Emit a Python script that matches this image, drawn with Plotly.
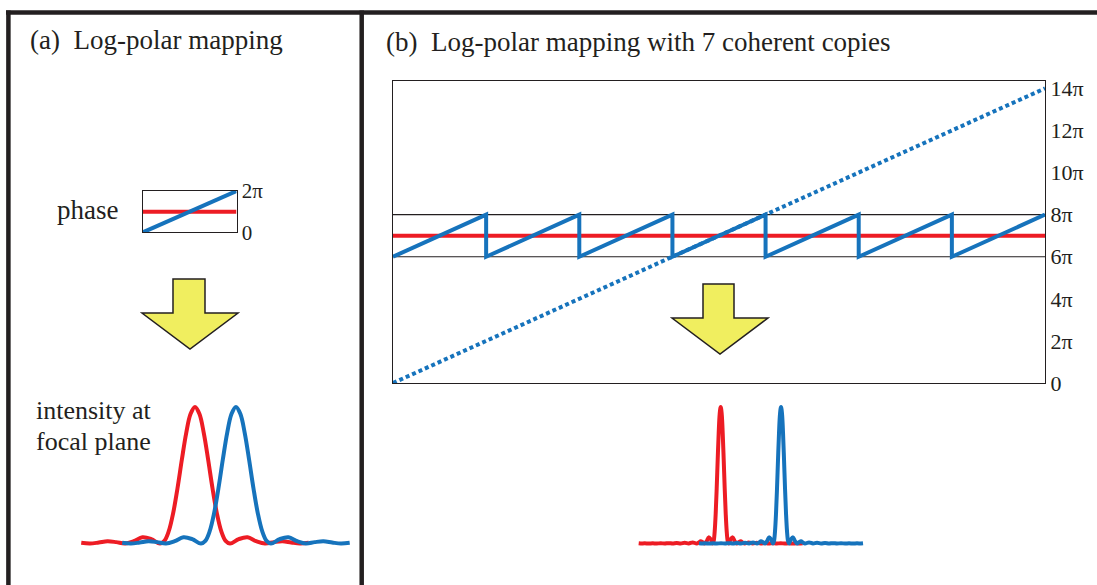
import plotly.graph_objects as go

W, H = 1097, 585

# ---------------- data ----------------
# panel (a): phase across the aperture (in units of pi)
phase_a_x = [0, 1]
phase_a_red = [1, 1]
phase_a_blue = [0, 2]
phase_a_tickvals = [0, 2]
phase_a_ticktext = ["0", "2π"]

# panel (b): phase with 7 coherent copies (in units of pi)
saw_x = [0, 1, 1, 2, 2, 3, 3, 4, 4, 5, 5, 6, 6, 7]
saw_y = [6, 8, 6, 8, 6, 8, 6, 8, 6, 8, 6, 8, 6, 8]
ramp_x = [0, 7]
ramp_y = [0, 14]
flat_x = [0, 7]
flat_y = [7, 7]
band_levels = [6, 8]
b_tickvals = [0, 2, 4, 6, 8, 10, 12, 14]
b_ticktext = ["0", "2π", "4π", "6π", "8π", "10π", "12π", "14π"]

# intensity at focal plane, panel (a) (offset from peak, relative intensity)
int_a_offsets = [-3.25, -3.0, -2.75, -2.5, -2.25, -2.0, -1.75, -1.5, -1.25, -1.0,
                 -0.875, -0.75, -0.625, -0.5, -0.375, -0.25, -0.125, 0.0,
                 0.125, 0.25, 0.375, 0.5, 0.625, 0.75, 0.875, 1.0,
                 1.25, 1.5, 1.75, 2.0, 2.25, 2.5, 2.75, 3.0, 3.25]
int_a_values = [0.005, 0.0, 0.007, 0.016, 0.010, 0.0, 0.017, 0.045, 0.032, 0.0,
                0.019, 0.090, 0.221, 0.405, 0.615, 0.811, 0.950, 1.0,
                0.950, 0.811, 0.615, 0.405, 0.221, 0.090, 0.019, 0.0,
                0.032, 0.045, 0.017, 0.0, 0.010, 0.016, 0.007, 0.0, 0.005]
int_a_red_center = 0.0
int_a_blue_center = 1.17

# intensity at focal plane, panel (b)
int_b_offsets = [-10.25, -10.0, -9.5, -9.0, -8.5, -8.0, -7.5, -7.0, -6.5, -6.0,
                 -5.5, -5.0, -4.5, -4.0, -3.5, -3.0, -2.75, -2.5, -2.25, -2.0,
                 -1.75, -1.5, -1.25, -1.0, -0.875, -0.75, -0.625, -0.5, -0.375,
                 -0.25, -0.125, 0.0, 0.125, 0.25, 0.375, 0.5, 0.625, 0.75, 0.875,
                 1.0, 1.25, 1.5, 1.75, 2.0, 2.25, 2.5, 2.75, 3.0, 3.5, 4.0, 4.5,
                 5.0, 5.5, 6.0, 6.5, 7.0, 7.5, 8.0, 8.5, 9.0, 9.5, 10.0, 10.25]
int_b_values = [0.001, 0.0, 0.001, 0.0, 0.0014, 0.0, 0.0018, 0.0, 0.0024, 0.0,
                0.0033, 0.0, 0.005, 0.0, 0.008, 0.0, 0.007, 0.016, 0.010, 0.0,
                0.017, 0.045, 0.032, 0.0, 0.019, 0.090, 0.221, 0.405, 0.615,
                0.811, 0.950, 1.0, 0.950, 0.811, 0.615, 0.405, 0.221, 0.090, 0.019,
                0.0, 0.032, 0.045, 0.017, 0.0, 0.010, 0.016, 0.007, 0.0, 0.008, 0.0, 0.005,
                0.0, 0.0033, 0.0, 0.0024, 0.0, 0.0018, 0.0, 0.0014, 0.0, 0.001, 0.0, 0.001]
int_b_red_center = 0.0
int_b_blue_center = 7.54

# ---------------- style ----------------
RED = "#ED1C24"
BLUE = "#1673BC"
INK = "#231F20"
YELLOW = "#F0EE5F"
FONT = "Liberation Serif"


def dx(p0, p1):
    return [p0 / W, p1 / W]


def dy(top, bottom):
    return [1 - bottom / H, 1 - top / H]


def px(p):
    return p / W


def py(p):
    return 1 - p / H


fig = go.Figure()

# panel (b) main phase plot (axes x / y)
fig.add_trace(go.Scatter(x=flat_x, y=flat_y, mode="lines",
                         line=dict(color=RED, width=4), xaxis="x", yaxis="y"))
fig.add_trace(go.Scatter(x=ramp_x, y=ramp_y, mode="lines",
                         line=dict(color=BLUE, width=4, dash="4px,3px"), xaxis="x", yaxis="y"))
fig.add_trace(go.Scatter(x=saw_x, y=saw_y, mode="lines",
                         line=dict(color=BLUE, width=4), xaxis="x", yaxis="y"))

# panel (a) phase box (axes x2 / y2)
fig.add_trace(go.Scatter(x=phase_a_x, y=phase_a_red, mode="lines",
                         line=dict(color=RED, width=4), xaxis="x2", yaxis="y2"))
fig.add_trace(go.Scatter(x=phase_a_x, y=phase_a_blue, mode="lines",
                         line=dict(color=BLUE, width=4), xaxis="x2", yaxis="y2"))

# panel (a) intensity (x3 / y3)
fig.add_trace(go.Scatter(x=[int_a_red_center + o for o in int_a_offsets], y=int_a_values,
                         mode="lines", line=dict(color=RED, width=4, shape="spline"),
                         xaxis="x3", yaxis="y3"))
fig.add_trace(go.Scatter(x=[int_a_blue_center + o for o in int_a_offsets], y=int_a_values,
                         mode="lines", line=dict(color=BLUE, width=4, shape="spline"),
                         xaxis="x3", yaxis="y3"))

# panel (b) intensity (x4 / y4)
fig.add_trace(go.Scatter(x=[int_b_red_center + o for o in int_b_offsets], y=int_b_values,
                         mode="lines", line=dict(color=RED, width=4, shape="spline"),
                         xaxis="x4", yaxis="y4"))
fig.add_trace(go.Scatter(x=[int_b_blue_center + o for o in int_b_offsets], y=int_b_values,
                         mode="lines", line=dict(color=BLUE, width=4, shape="spline"),
                         xaxis="x4", yaxis="y4"))

hidden = dict(visible=False, showgrid=False, zeroline=False, fixedrange=True, automargin=False)
box_line = dict(showline=True, mirror=True, linecolor=INK, linewidth=1.2,
                showgrid=False, zeroline=False, ticks="", fixedrange=True, automargin=False)

# intensity axes scale: 0 at y=543.5 px, 1 at y=407 px
I0, I1 = 543.5, 407.0
ipx = I0 - I1
itop, ibot = 392.0, 556.0
irange = [-(ibot - I0) / ipx, (I0 - itop) / ipx]

fig.update_layout(
    width=W, height=H, autosize=False,
    margin=dict(l=0, r=0, t=0, b=0, pad=0, autoexpand=False),
    paper_bgcolor="white", plot_bgcolor="rgba(0,0,0,0)",
    showlegend=False,
    xaxis=dict(domain=dx(393, 1045), range=[0, 7], anchor="y",
               showticklabels=False, **box_line),
    yaxis=dict(domain=dy(81, 383), range=[0, 14.35], anchor="x", side="right",
               tickvals=b_tickvals, ticktext=b_ticktext,
               tickfont=dict(family=FONT, size=22, color=INK), **box_line),
    xaxis2=dict(domain=dx(143, 236.5), range=[0, 1], anchor="y2",
                showticklabels=False, **box_line),
    yaxis2=dict(domain=dy(191, 232.3), range=[0, 2], anchor="x2", side="right",
                tickvals=phase_a_tickvals, ticktext=phase_a_ticktext,
                tickfont=dict(family=FONT, size=21, color=INK), **box_line),
    xaxis3=dict(domain=dx(60, 360), range=[(60 - 195) / 35, (360 - 195) / 35],
                anchor="y3", **hidden),
    yaxis3=dict(domain=dy(itop, ibot), range=irange, anchor="x3", **hidden),
    xaxis4=dict(domain=dx(630, 875), range=[(630 - 720.7) / 8, (875 - 720.7) / 8],
                anchor="y4", **hidden),
    yaxis4=dict(domain=dy(itop, ibot), range=irange, anchor="x4", **hidden),
)

# horizontal band lines at 6π and 8π in panel (b)
for lv in band_levels:
    fig.add_shape(type="line", xref="x domain", yref="y", x0=0, x1=1, y0=lv, y1=lv,
                  line=dict(color=INK, width=1.1), layer="below")

# frame lines
frame = dict(color=INK, width=4.5)
fig.add_shape(type="line", xref="paper", yref="paper", x0=px(6), x1=px(W), y0=py(12.5), y1=py(12.5), line=frame)
fig.add_shape(type="line", xref="paper", yref="paper", x0=px(8.4), x1=px(8.4), y0=py(10.5), y1=py(H), line=frame)
fig.add_shape(type="line", xref="paper", yref="paper", x0=px(361.7), x1=px(361.7), y0=py(10.5), y1=py(H), line=frame)


def arrow_path(sx0, sx1, top, neck, hx0, hx1, tipx, tipy):
    pts = [(sx0, top), (sx1, top), (sx1, neck), (hx1, neck), (tipx, tipy),
           (hx0, neck), (sx0, neck)]
    s = "M " + " L ".join(f"{px(a):.5f},{py(b):.5f}" for a, b in pts) + " Z"
    return s


for args in [(173, 205, 279, 313, 142, 238, 190, 349),
             (703, 734, 284, 318, 672, 768, 720, 354)]:
    fig.add_shape(type="path", xref="paper", yref="paper", path=arrow_path(*args),
                  fillcolor=YELLOW, line=dict(color=INK, width=1.5))

# texts
def label(text, x, y, size=27, xanchor="left"):
    fig.add_annotation(text=text, xref="paper", yref="paper", x=px(x), y=py(y),
                       xanchor=xanchor, yanchor="middle", showarrow=False,
                       font=dict(family=FONT, size=size, color=INK))


label("(a)  Log-polar mapping", 28, 40)
label("(b)  Log-polar mapping with 7 coherent copies", 384, 42)
label("phase", 55, 210)
label("intensity at", 34, 411, size=26)
label("focal plane", 34, 441, size=26)

post = """
document.documentElement.style.margin='0';
document.body.style.margin='0';
document.body.style.padding='0';
document.body.style.overflow='hidden';
"""

fig.write_html("out.html", config={"displayModeBar": False, "responsive": False},
               post_script=post)
